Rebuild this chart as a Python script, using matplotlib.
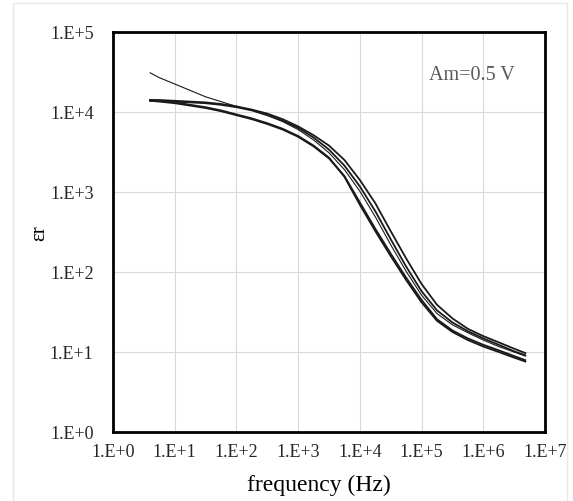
import numpy as np
import matplotlib.pyplot as plt
from matplotlib.patches import Rectangle
from matplotlib.ticker import FuncFormatter, LogLocator, NullLocator

# frequency points (Hz) shared by all curves
freq = [4, 5.6, 10, 17.8, 31.6, 56.2, 100, 178, 316, 562, 1000, 1780, 3160, 5620,
        1e4, 1.78e4, 3.16e4, 5.62e4, 1e5, 1.78e5, 3.16e5, 5.62e5, 1e6, 1.78e6, 3.16e6, 4.8e6]

# relative permittivity for each sample
eps_thin = [30903, 26915, 22387, 18621, 15488, 13490, 11749, 10471, 9120, 7586, 6026, 4467, 3090,
            1905, 1023, 490, 219, 102, 51.3, 30.2, 21.9, 17.4, 14.1, 11.7, 10.0, 8.9]
eps_u1 = [14125, 14125, 13804, 13490, 13183, 12589, 11749, 10715, 9550, 8128, 6607, 5129, 3802,
          2512, 1413, 724, 324, 148, 70.8, 38.9, 26.3, 19.5, 15.8, 13.2, 11.0, 9.7]
eps_u2 = [13804, 13804, 13490, 13183, 12882, 12303, 11482, 10471, 9120, 7762, 6310, 4786, 3388,
          2138, 1175, 575, 257, 117, 57.5, 33.1, 23.4, 18.2, 14.8, 12.3, 10.2, 9.1]
eps_l1 = [14125, 13804, 13183, 12303, 11482, 10471, 9333, 8318, 7244, 6166, 5012, 3802, 2692,
          1549, 692, 324, 158, 79.4, 41.7, 24.5, 17.8, 14.1, 11.7, 10.0, 8.5, 7.6]
eps_l2 = [13804, 13490, 12882, 12023, 11220, 10233, 9120, 8128, 7079, 6026, 4898, 3715, 2630,
          1585, 741, 347, 170, 85.1, 44.7, 25.7, 18.6, 14.8, 12.3, 10.5, 8.9, 7.9]

plt.rcParams['font.family'] = ['Liberation Serif', 'DejaVu Serif']

fig = plt.figure(figsize=(5.73, 5.02), dpi=100)
fig.patches.append(Rectangle((13 / 573, -0.05), 554 / 573, 1.05 - 4 / 502, transform=fig.transFigure,
                             fill=False, edgecolor='#e8e8e8', lw=1.0))
ax = fig.add_axes([113 / 573, 69 / 502, 432 / 573, 400 / 502])

for eps, lw in [(eps_thin, 0.8), (eps_u1, 1.3), (eps_u2, 1.3), (eps_l1, 1.3), (eps_l2, 1.3)]:
    ax.plot(freq, eps, color='#1a1a1a', lw=lw)

ax.set_xscale('log')
ax.set_yscale('log')
ax.set_xlim(1, 1e7)
ax.set_ylim(1, 1e5)
ax.xaxis.set_major_locator(LogLocator(base=10, numticks=10))
ax.yaxis.set_major_locator(LogLocator(base=10, numticks=10))
ax.xaxis.set_minor_locator(NullLocator())
ax.yaxis.set_minor_locator(NullLocator())
fmt = FuncFormatter(lambda v, p: '1.E+%d' % round(np.log10(v)))
ax.xaxis.set_major_formatter(fmt)
ax.yaxis.set_major_formatter(fmt)
ax.tick_params(length=0, labelsize=13, labelcolor='#262626')
ax.tick_params(axis='x', pad=8)
ax.tick_params(axis='y', pad=14)
ax.grid(True, color='#d9d9d9', lw=0.8)
ax.set_axisbelow(True)
for s in ax.spines.values():
    s.set_linewidth(2)
    s.set_color('black')

ax.text(0.83, 0.895, 'Am=0.5 V', transform=ax.transAxes, ha='center', va='center',
        fontsize=14.5, color='#595959')
fig.text(40 / 573, 1 - 233 / 502, 'εr', rotation=90, ha='center', va='center', fontsize=15)
fig.text(319 / 573, 1 - 485 / 502, 'frequency (Hz)', ha='center', va='center', fontsize=17)

fig.savefig('out.png', dpi=100)
